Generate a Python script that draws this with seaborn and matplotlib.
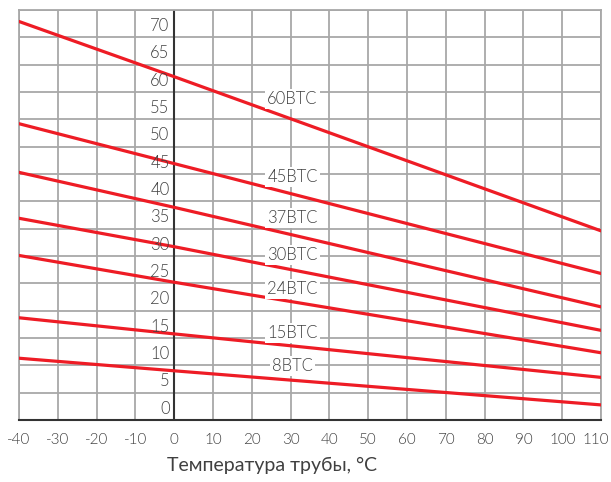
import numpy as np
import pandas as pd
import matplotlib
matplotlib.use('Agg')
import matplotlib.pyplot as plt
import matplotlib.transforms as mtransforms
import seaborn as sns

# values at -40, 0 and 110 C
temps = [-40, 0, 110]
p60 = [72.9, 62.8, 34.6]
p45 = [54.2, 46.9, 26.8]
p37 = [45.3, 38.9, 20.7]
p30 = [36.9, 31.7, 16.4]
p24 = [30.1, 25.2, 12.3]
p15 = [18.7, 15.75, 7.8]
p8 = [11.3, 9.0, 2.76]

names = ['60BTC', '45BTC', '37BTC', '30BTC', '24BTC', '15BTC', '8BTC']
series = [p60, p45, p37, p30, p24, p15, p8]
# where the captions sit (x, y in data units)
label_x = 30.5
label_y = [58.7, 44.4, 36.9, 30.1, 23.9, 15.9, 9.8]

xticks = list(range(-40, 111, 10))
yticks = list(range(0, 76, 5))
xlabel = 'Температура трубы, °С'

rows = []
for n, s in zip(names, series):
    for t, v in zip(temps, s):
        rows.append({'t': t, 'p': v, 'cable': n})
df = pd.DataFrame(rows)

sns.set_style('white')
plt.rcParams['font.family'] = ['Lato', 'DejaVu Sans']
plt.rcParams['font.weight'] = 300
plt.rcParams['axes.unicode_minus'] = False

grid_c = '#a8a8a8'
text_c = '#404040'
red = '#ee1c25'

fig = plt.figure(figsize=(6.11, 4.82), dpi=100)
ax = fig.add_axes([19 / 611, 1 - 420 / 482, 582 / 611, 410 / 482])

sns.lineplot(data=df, x='t', y='p', hue='cable', palette=[red] * len(names),
             lw=2.3, legend=False, ax=ax, zorder=3)

ax.set_xlim(-40, 110)
ax.set_ylim(0, 75)
ax.set_xticks(xticks)
ax.set_yticks(yticks)
ax.grid(True, color=grid_c, lw=1.3, zorder=0)
ax.set_axisbelow(True)
for side in ['left', 'right', 'top']:
    ax.spines[side].set_color(grid_c)
    ax.spines[side].set_linewidth(1.3)
ax.spines['bottom'].set_color('#333333')
ax.spines['bottom'].set_linewidth(1.5)
ax.axvline(0, color='#333333', lw=1.5, zorder=2)

ax.tick_params(axis='x', length=5, width=1.3, color=grid_c, labelsize=11,
               labelcolor=text_c, pad=4.5)
ax.tick_params(axis='y', length=0, labelleft=False)

# last x label sits flush with the right edge like in the reference
last = ax.get_xticklabels()[-1]
last.set_ha('right')
last.set_transform(last.get_transform() +
                   mtransforms.ScaledTranslation(0.08, 0, fig.dpi_scale_trans))

for v in yticks[:-1]:
    ax.text(-1.2, v + 0.6, str(v), ha='right', va='bottom', fontsize=12,
            color=text_c, zorder=4)

for n, y in zip(names, label_y):
    ax.text(label_x, y, n, ha='center', va='center', fontsize=12, color=text_c,
            zorder=5, bbox=dict(facecolor='white', edgecolor='none', pad=1.5))

ax.set_xlabel(xlabel, fontsize=14, color=text_c, x=0.435, labelpad=7)
ax.set_ylabel('')

fig.savefig('out.png', dpi=100)
